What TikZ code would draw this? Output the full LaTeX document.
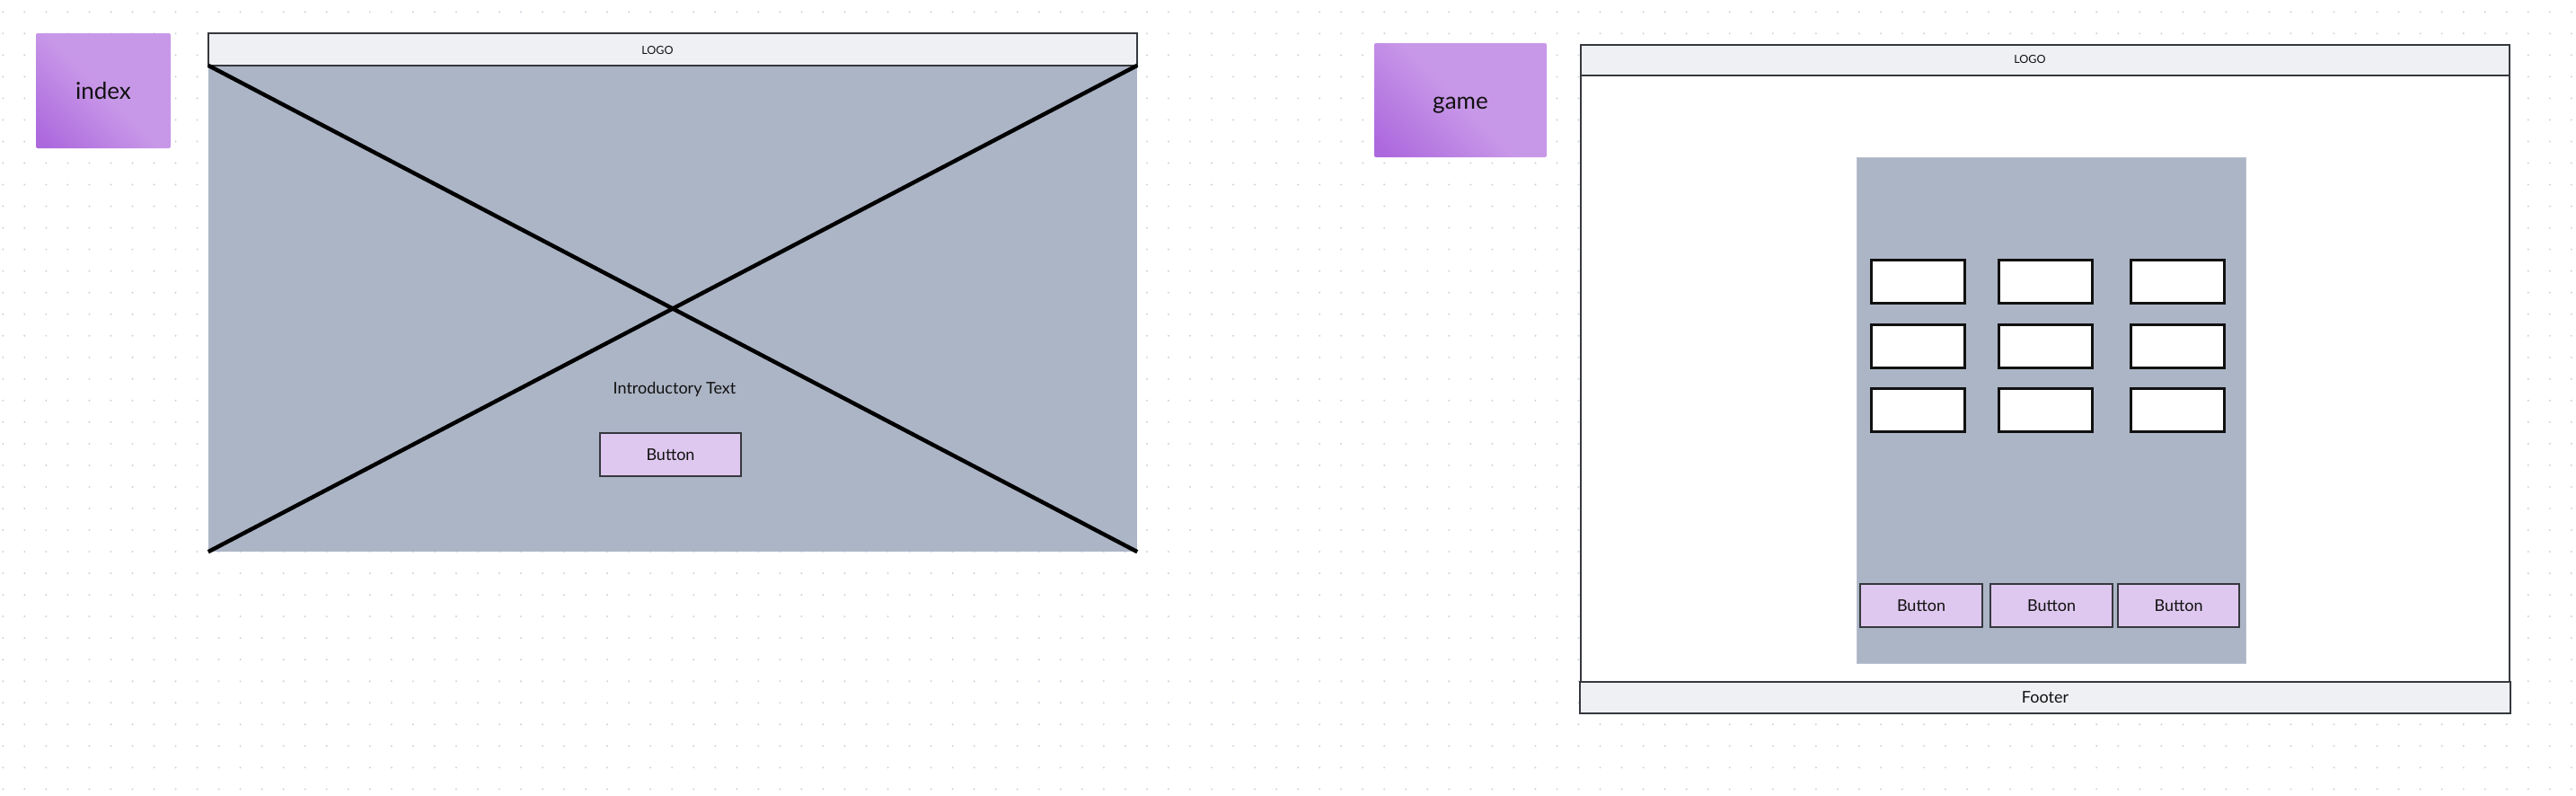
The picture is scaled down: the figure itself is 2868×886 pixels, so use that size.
\documentclass[tikz,border=0pt]{standalone}
\usepackage{fontspec}
\setmainfont{Lato}
\definecolor{stkdark}{HTML}{AC68DD}
\definecolor{stklight}{HTML}{C898E8}
\definecolor{wfgray}{HTML}{ACB5C6}
\definecolor{wfgrayedge}{HTML}{BAC1CE}
\definecolor{hdrfill}{HTML}{EFF0F4}
\definecolor{edgec}{HTML}{35383D}
\definecolor{btnfill}{HTML}{DFC8EF}
\definecolor{dotc}{HTML}{CDD1DF}
\definecolor{inkc}{HTML}{111111}
\pgfdeclareverticalshading{stickyshade}{100bp}{color(0bp)=(stkdark); color(18bp)=(stkdark); color(50bp)=(stklight); color(100bp)=(stklight)}
\tikzset{
  sticky/.style={shading=stickyshade, shading angle=-45, rounded corners=2pt, inner sep=0pt, text=inkc, font=\fontsize{26}{30}\selectfont, text height=19pt, text depth=0pt},
  barbox/.style={draw=edgec, line width=2pt, fill=hdrfill, inner sep=0pt, text=inkc, font=\fontsize{18}{20}\selectfont},
  grayarea/.style={fill=wfgray, inner sep=0pt},
  pagebox/.style={draw=edgec, line width=2pt, fill=white, inner sep=0pt},
  panel/.style={fill=wfgray, draw=wfgrayedge, line width=1pt, inner sep=0pt},
  btnbox/.style={draw=edgec, line width=1.8pt, fill=btnfill, inner sep=0pt, minimum height=48pt, text=inkc, font=\fontsize{18}{20}\selectfont},
  cellbox/.style={draw=inkc, line width=3pt, fill=white, inner sep=0pt, minimum width=104pt, minimum height=48pt},
  xline/.style={line width=4.5pt, draw=black},
  txtlabel/.style={inner sep=0pt, text=inkc, font=\fontsize{18}{20}\selectfont},
  logotext/.style={inner sep=0pt, text=inkc, font=\fontsize{12.5}{14}\selectfont}
}
\begin{document}
\begin{tikzpicture}[x=1pt, y=-1pt]
\useasboundingbox[fill=white] (0,0) rectangle (2868,886);
% dotted canvas
\foreach \i in {0,...,119} {
  \foreach \j in {0,...,36} {
    \fill[dotc] (3.3+24.03*\i, 13.3+24.03*\j) circle[radius=1.1pt];
  }
}
% ---------- index ----------
\node[sticky, minimum width=150pt, minimum height=128pt] (idx) at (115,101) {index};
\node[grayarea, minimum width=1034pt, minimum height=541pt] (bodyA) at (749,343.5) {};
\node[barbox, minimum width=1034pt, minimum height=36pt] (hdrA) at (749,55) {};
\node[logotext] (logoA) at (732,56.5) {LOGO};
\draw[xline] (bodyA.north west) -- (bodyA.south east);
\draw[xline] (bodyA.south west) -- (bodyA.north east);
\node[txtlabel] (introA) at (751,433) {Introductory Text};
\node[btnbox, minimum width=157pt] (btnA) at (746.5,506) {Button};
% ---------- game ----------
\node[sticky, minimum width=192pt, minimum height=127pt] (gam) at (1626,111.5) {game};
\node[pagebox, minimum width=1034pt, minimum height=675pt] (bodyB) at (2277,421.5) {};
\node[barbox, minimum width=1034pt, minimum height=34pt] (hdrB) at (2277,67) {};
\node[logotext] (logoB) at (2260,66.5) {LOGO};
\node[barbox, minimum width=1036pt, minimum height=35pt] (footB) at (2277,776.5) {Footer};
\node[panel, minimum width=433pt, minimum height=563pt] (panelB) at (2283.5,456.5) {};
\node[cellbox] (c11) at (2135.5,313.5) {};
\node[cellbox] (c12) at (2277,313.5) {};
\node[cellbox] (c13) at (2424,313.5) {};
\node[cellbox] (c21) at (2135.5,385.5) {};
\node[cellbox] (c22) at (2277,385.5) {};
\node[cellbox] (c23) at (2424,385.5) {};
\node[cellbox] (c31) at (2135.5,456.5) {};
\node[cellbox] (c32) at (2277,456.5) {};
\node[cellbox] (c33) at (2424,456.5) {};
\node[btnbox, minimum width=136pt] (btnB1) at (2139,674) {Button};
\node[btnbox, minimum width=136pt] (btnB2) at (2284,674) {Button};
\node[btnbox, minimum width=135pt] (btnB3) at (2425.5,674) {Button};
\end{tikzpicture}
\end{document}
